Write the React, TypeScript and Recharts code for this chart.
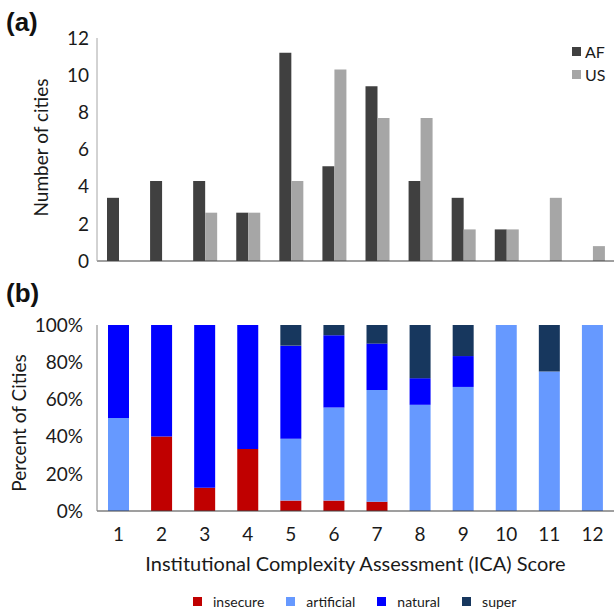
import React from 'react';
import { BarChart, Bar, XAxis, YAxis, Legend, Label } from 'recharts';

// ICA score categories shared by both panels
const scores = ['1', '2', '3', '4', '5', '6', '7', '8', '9', '10', '11', '12'];

// Panel (a): number of cities per ICA score
const afCities = [3.4, 4.3, 4.3, 2.6, 11.2, 5.1, 9.4, 4.3, 3.4, 1.7, 0, 0];
const usCities = [0, 0, 2.6, 2.6, 4.3, 10.3, 7.7, 7.7, 1.7, 1.7, 3.4, 0.8];
const countTicks = [0, 2, 4, 6, 8, 10, 12];

// Panel (b): share of cities by water security class (%)
const securityClasses = ['insecure', 'artificial', 'natural', 'super'];
const insecurePct = [0, 40, 12.5, 33.3, 5.6, 5.6, 5, 0, 0, 0, 0, 0];
const artificialPct = [50, 0, 0, 0, 33.3, 50, 60, 57.1, 66.7, 100, 75, 100];
const naturalPct = [50, 60, 87.5, 66.7, 50, 38.9, 25, 14.3, 16.6, 0, 0, 0];
const superPct = [0, 0, 0, 0, 11.1, 5.5, 10, 28.6, 16.7, 0, 25, 0];
const pctTicks = [0, 20, 40, 60, 80, 100];

const FONT = 'Lato, "Open Sans", sans-serif';
const TEXT = '#1a1a1a';

const countData = scores.map((s, i) => ({ score: s, AF: afCities[i], US: usCities[i] }));
const pctData = scores.map((s, i) => ({
  score: s,
  insecure: insecurePct[i],
  artificial: artificialPct[i],
  natural: naturalPct[i],
  super: superPct[i],
}));

const COLORS = {
  AF: '#404040',
  US: '#A6A6A6',
  insecure: '#C00000',
  artificial: '#6699FF',
  natural: '#0000FF',
  super: '#17375E',
};

const CountLegend = (props: any) => {
  const items = props.payload || [];
  return (
    <div style={{ fontFamily: FONT, fontSize: 16, color: TEXT }}>
      {items.map((it: any) => (
        <div key={it.value} style={{ display: 'flex', alignItems: 'center', height: 23 }}>
          <span style={{ width: 9, height: 9, background: it.color, display: 'inline-block', marginRight: 4 }} />
          <span>{it.value}</span>
        </div>
      ))}
    </div>
  );
};

// keep the stacking order (bottom to top) in the legend
const PctLegend = (props: any) => {
  const items = [...(props.payload || [])].sort(
    (a: any, b: any) => securityClasses.indexOf(a.value) - securityClasses.indexOf(b.value)
  );
  return (
    <div style={{ fontFamily: FONT, fontSize: 14, color: TEXT, display: 'flex' }}>
      {items.map((it: any) => (
        <div key={it.value} style={{ display: 'flex', alignItems: 'center', marginRight: 22 }}>
          <span style={{ width: 9, height: 9, background: it.color, display: 'inline-block', marginRight: 11 }} />
          <span>{it.value}</span>
        </div>
      ))}
    </div>
  );
};

const verticalTitle = (text: string, dx: number, dy: number) => (props: any) => {
  const vb = props.viewBox;
  const cx = vb.x + vb.width / 2 + dx;
  const cy = vb.y + vb.height / 2 + dy;
  return (
    <text
      x={cx}
      y={cy}
      transform={`rotate(-90 ${cx} ${cy})`}
      textAnchor="middle"
      dominantBaseline="central"
      fontFamily={FONT}
      fontSize={19}
      fill={TEXT}
    >
      {text}
    </text>
  );
};

const bottomTitle = (text: string, y: number) => (props: any) => {
  const vb = props.viewBox;
  return (
    <text
      x={vb.x + vb.width / 2}
      y={y}
      textAnchor="middle"
      dominantBaseline="central"
      fontFamily={FONT}
      fontSize={20}
      fill={TEXT}
    >
      {text}
    </text>
  );
};

const panelTag: React.CSSProperties = {
  position: 'absolute',
  left: 6,
  fontFamily: '"Liberation Sans", Arial, sans-serif',
  fontWeight: 'bold',
  fontSize: 26,
  lineHeight: '26px',
  color: '#111',
};

export default function App() {
  return (
    <div style={{ position: 'absolute', left: 0, top: 0, width: 614, height: 615, background: '#fff', overflow: 'hidden' }}>
      <div style={{ ...panelTag, top: 9 }}>(a)</div>
      <div style={{ ...panelTag, top: 280 }}>(b)</div>

      <div style={{ position: 'absolute', left: 0, top: 0 }}>
        <BarChart width={614} height={280} data={countData} margin={{ top: 38, right: 0, bottom: 0, left: 0 }} barGap={0} barSize={12}>
          <XAxis dataKey="score" tick={false} tickLine={false} axisLine={{ stroke: '#404040', strokeWidth: 1.2 }} height={19} />
          <YAxis
            domain={[0, 12]}
            ticks={countTicks}
            interval={0}
            width={97}
            tickLine={false}
            tickSize={0}
            tickMargin={8}
            axisLine={{ stroke: '#A6A6A6' }}
            tick={{ fontFamily: FONT, fontSize: 19, fill: TEXT }}
          >
            <Label content={verticalTitle('Number of cities', -8, -2)} />
          </YAxis>
          <Legend
            verticalAlign="middle"
            layout="horizontal"
            content={<CountLegend />}
            wrapperStyle={{ top: 40, left: 572, width: 42 }}
          />
          <Bar dataKey="AF" name="AF" fill={COLORS.AF} isAnimationActive={false} />
          <Bar dataKey="US" name="US" fill={COLORS.US} isAnimationActive={false} />
        </BarChart>
      </div>

      <div style={{ position: 'absolute', left: 0, top: 280 }}>
        <BarChart width={614} height={335} data={pctData} margin={{ top: 45, right: 0, bottom: 0, left: 0 }} barSize={21}>
          <XAxis
            dataKey="score"
            interval={0}
            tickLine={false}
            tickSize={0}
            tickMargin={17}
            axisLine={{ stroke: '#404040', strokeWidth: 1.2 }}
            tick={{ fontFamily: FONT, fontSize: 19, fill: TEXT }}
            height={104}
          >
            <Label content={bottomTitle('Institutional Complexity Assessment (ICA) Score', 283)} />
          </XAxis>
          <YAxis
            domain={[0, 100]}
            ticks={pctTicks}
            interval={0}
            width={97}
            tickLine={false}
            tickSize={0}
            tickMargin={14}
            tickFormatter={(v: number) => `${v}%`}
            axisLine={{ stroke: '#808080' }}
            tick={{ fontFamily: FONT, fontSize: 19, fill: TEXT }}
          >
            <Label content={verticalTitle('Percent of Cities', -30, 5)} />
          </YAxis>
          <Legend
            verticalAlign="middle"
            layout="horizontal"
            content={<PctLegend />}
            wrapperStyle={{ top: 313, left: 193, width: 421 }}
          />
          {securityClasses.map((k) => (
            <Bar key={k} dataKey={k} name={k} stackId="s" fill={(COLORS as any)[k]} isAnimationActive={false} />
          ))}
        </BarChart>
      </div>
    </div>
  );
}
